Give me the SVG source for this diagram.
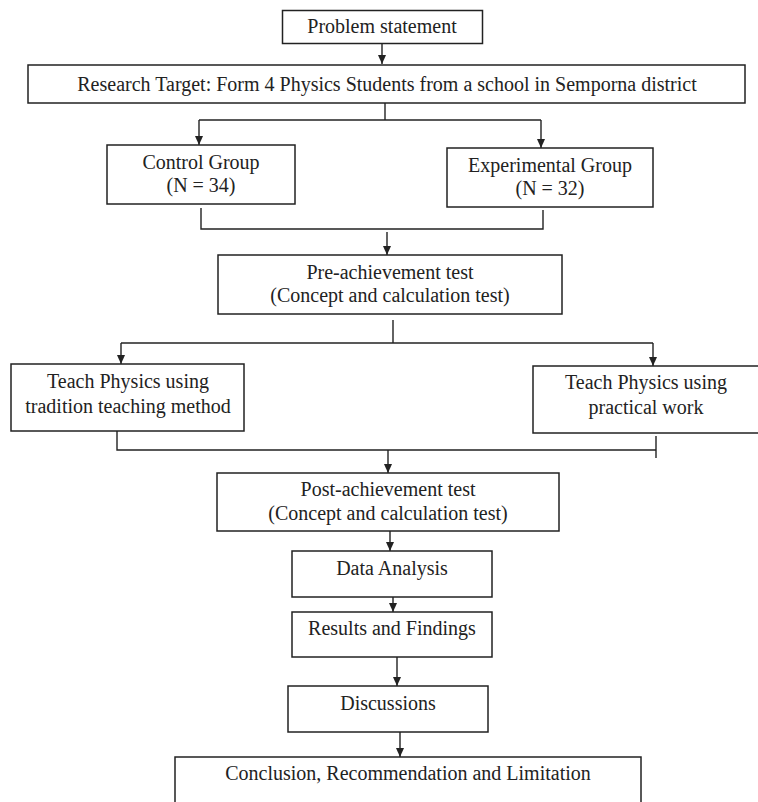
<svg xmlns="http://www.w3.org/2000/svg" width="758" height="802" viewBox="0 0 758 802">
<style>
.box{fill:#fff;stroke:#222;stroke-width:1.5}
.t{font-family:"Liberation Serif","Times New Roman",serif;font-size:20px;fill:#222;text-anchor:middle}
.ln{fill:none;stroke:#222;stroke-width:1.4}
.ar{fill:none;stroke:#222;stroke-width:1.4;marker-end:url(#ah)}
</style>
<defs>
<marker id="ah" markerUnits="userSpaceOnUse" markerWidth="10" markerHeight="10" viewBox="0 0 10 10" refX="9" refY="5" orient="auto">
<path d="M0,1 L9,5 L0,9 Z" fill="#222"/>
</marker>
</defs>
<rect width="758" height="802" fill="#fff"/>
<g id="connectors">
<line class="ar" x1="382" y1="43" x2="382" y2="64"/>
<polyline class="ln" points="385,103 385,120"/>
<line class="ln" x1="199" y1="120" x2="541" y2="120"/>
<line class="ar" x1="199" y1="120" x2="199" y2="145"/>
<line class="ar" x1="541" y1="120" x2="541" y2="148"/>
<polyline class="ln" points="201,208 201,229 543,229 543,210"/>
<line class="ar" x1="387" y1="232" x2="387" y2="255"/>
<polyline class="ln" points="393,320 393,343"/>
<line class="ln" x1="121" y1="343" x2="653" y2="343"/>
<line class="ar" x1="121" y1="343" x2="121" y2="364"/>
<line class="ar" x1="653" y1="343" x2="653" y2="366"/>
<polyline class="ln" points="117,431 117,450 656,450"/>
<line class="ln" x1="656" y1="436" x2="656" y2="458"/>
<line class="ar" x1="388" y1="450" x2="388" y2="473"/>
<line class="ar" x1="390" y1="531" x2="390" y2="551"/>
<line class="ar" x1="393" y1="597" x2="393" y2="612"/>
<line class="ar" x1="397" y1="657" x2="397" y2="686"/>
<line class="ar" x1="400" y1="732" x2="400" y2="757"/>
</g>
<g id="problem">
<rect class="box" x="282.5" y="10.5" width="200" height="33"/>
<text class="t" x="382" y="33">Problem statement</text>
</g>
<g id="research">
<rect class="box" x="28" y="65" width="717" height="38"/>
<text class="t" x="387" y="91">Research Target: Form 4 Physics Students from a school in Semporna district</text>
</g>
<g id="control">
<rect class="box" x="107" y="145" width="188" height="59"/>
<text class="t" x="201" y="169">Control Group</text>
<text class="t" x="201" y="192">(N = 34)</text>
</g>
<g id="experimental">
<rect class="box" x="447" y="148" width="206" height="59"/>
<text class="t" x="550" y="172">Experimental Group</text>
<text class="t" x="550" y="195">(N = 32)</text>
</g>
<g id="pre">
<rect class="box" x="218" y="255" width="344" height="59"/>
<text class="t" x="390" y="279">Pre-achievement test</text>
<text class="t" x="390" y="302">(Concept and calculation test)</text>
</g>
<g id="teach-traditional">
<rect class="box" x="11" y="364" width="233" height="67"/>
<text class="t" x="128" y="388">Teach Physics using</text>
<text class="t" x="128" y="413">tradition teaching method</text>
</g>
<g id="teach-practical">
<rect class="box" x="533" y="366" width="226" height="67"/>
<text class="t" x="646" y="389">Teach Physics using</text>
<text class="t" x="646" y="414">practical work</text>
</g>
<g id="post">
<rect class="box" x="217" y="473" width="342" height="58"/>
<text class="t" x="388" y="496">Post-achievement test</text>
<text class="t" x="388" y="520">(Concept and calculation test)</text>
</g>
<g id="data">
<rect class="box" x="292" y="551" width="200" height="46"/>
<text class="t" x="392" y="575">Data Analysis</text>
</g>
<g id="results">
<rect class="box" x="292" y="612" width="200" height="45"/>
<text class="t" x="392" y="635">Results and Findings</text>
</g>
<g id="discussions">
<rect class="box" x="288" y="686" width="200" height="46"/>
<text class="t" x="388" y="710">Discussions</text>
</g>
<g id="conclusion">
<rect class="box" x="175" y="757" width="466" height="60"/>
<text class="t" x="408" y="780">Conclusion, Recommendation and Limitation</text>
</g>
</svg>
